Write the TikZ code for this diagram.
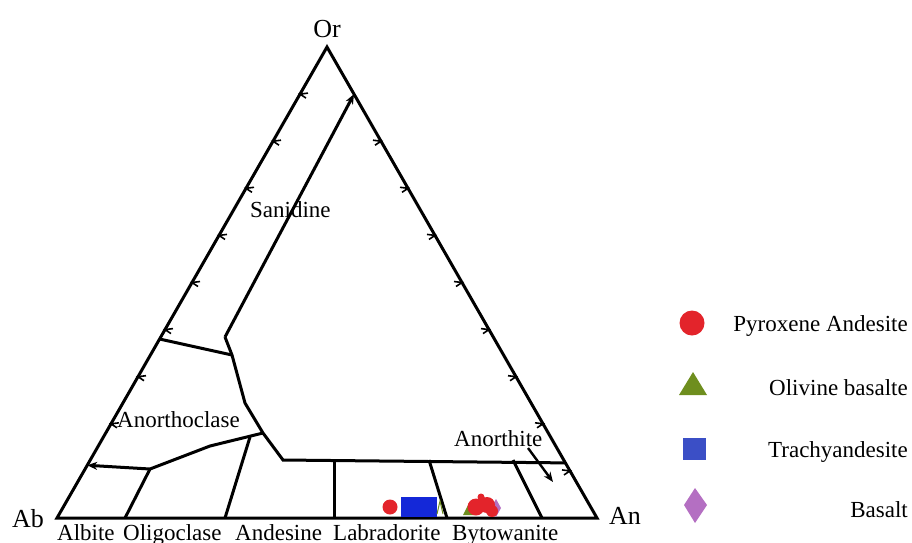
\documentclass[tikz,border=0pt]{standalone}
\usepackage{fontspec}
\setmainfont{Liberation Serif}
\usepackage{xcolor}
\usetikzlibrary{calc,arrows.meta,shapes.geometric}
\definecolor{ptred}{HTML}{E3242B}
\definecolor{ptgreen}{HTML}{6E8E1E}
\definecolor{ptblue}{HTML}{3B4FC6}
\definecolor{ptdata}{HTML}{1428D8}
\definecolor{ptviolet}{HTML}{B46FC2}

\begin{document}
\begin{tikzpicture}[x=1pt,y=-1pt]
	\tikzset{field/.style={line width=3pt},
		corner label/.style={font=\fontsize{26}{28}\selectfont,inner sep=0pt,anchor=base},
		field label/.style={font=\fontsize{23}{25}\selectfont,inner sep=0pt,anchor=base west},
		key label/.style={font=\fontsize{23}{25}\selectfont,inner sep=0pt,anchor=base east},
		tickmark/.style={line width=1.6pt},
		path tip/.style={-{Stealth[length=10pt,width=8pt]}}}
	\useasboundingbox (0,0) rectangle (912,542);

	\coordinate (Ab) at (57,518);
	\coordinate (An) at (597,518);
	\coordinate (Or) at (327,47);
	\draw[field,line join=miter] (Ab) -- (Or) -- (An) -- cycle;

	\node[corner label] (OrL) at (327,37) {Or};
	\node[corner label,anchor=base west] (AbL) at (12,527) {Ab};
	\node[corner label,anchor=base west] (AnL) at (609,524) {An};

	% ticks on the two sides
	\foreach \k in {1,...,8}
		\draw[tickmark] ($(Or)!\k/10!(Ab)$) ++(8,-1) -- ++(-8,1) -- ++(6,4);
	\foreach \k in {2,...,9}
		\draw[tickmark] ($(Or)!\k/10!(An)$) ++(-8,-1) -- ++(8,1) -- ++(-6,4);

	\coordinate (I1) at ($(Or)!0.1!(An)$);
	\coordinate (K1) at (225,337);
	\coordinate (K2) at (232,355);
	\coordinate (K3) at (245,403);
	\coordinate (K4) at (263,433);
	\coordinate (K5) at (283,460);
	\coordinate (R1) at ($(Or)!0.883!(An)$);
	\coordinate (L1) at ($(Or)!0.62!(Ab)$);
	\coordinate (L2) at ($(Or)!0.888!(Ab)$);
	\coordinate (M1) at (150,469);
	\coordinate (M2) at (210,446);

	\draw[field,path tip] (K1) -- (I1);
	\draw[field] (K1) -- (K2) -- (K3) -- (K4) -- (K5) -- (R1);
	\draw[field] (L1) -- (K2);
	\draw[field,path tip] (K4) -- (M2) -- (M1) -- (L2);

	\draw[field] (M1) -- (125,518);
	\draw[field] (250,437) -- (225,518);
	\draw[field] (334,460) -- (334,518);
	\draw[field] (429,460) -- (447,518);
	\draw[field] (513,460) -- (542,518);

	\node[field label] (san) at (250,217) {Sanidine};
	\node[field label] (ano) at (117,427) {Anorthoclase};
	\node[field label] (anr) at (454,446) {Anorthite};
	\coordinate (anrtip) at (553,482);
	\draw[line width=2.4pt,path tip] (528,448) -- (anrtip);

	\node[field label] (alb) at (57,540) {Albite};
	\node[field label] (oli) at (123,540) {Oligoclase};
	\node[field label] (and) at (235,540) {Andesine};
	\node[field label] (lab) at (333,540) {Labradorite};
	\node[field label] (byt) at (452,540) {Bytowanite};

	% samples
	\fill[ptdata] (401,497) rectangle (437,517);
	\fill[ptred] (390,507) circle (7.5);
	\draw[ptgreen,line width=1pt] (437,514) -- (440,501) -- (443,514);
	\fill[ptgreen] (463,515) -- (469,503) -- (475,515) -- cycle;
	\fill[ptviolet] (496,499) -- (501,508) -- (496,517) -- (491,508) -- cycle;
	\fill[ptred] (476,507) circle (8.5) (487,505) circle (8) (492,511) circle (6) (481,497) circle (3.5);

	% key
	\fill[ptred] (692,323) circle (12.5);
	\node[key label] (k1) at (908,331) {Pyroxene Andesite};
	\fill[ptgreen] (679,395) -- (693,372) -- (707,395) -- cycle;
	\node[key label] (k2) at (908,395) {Olivine basalte};
	\fill[ptblue] (683,438) rectangle (706,460);
	\node[key label] (k3) at (908,457) {Trachyandesite};
	\fill[ptviolet] (695,488) -- (707,505) -- (695,523) -- (684,505) -- cycle;
	\node[key label] (k4) at (908,517) {Basalt};
\end{tikzpicture}
\end{document}
